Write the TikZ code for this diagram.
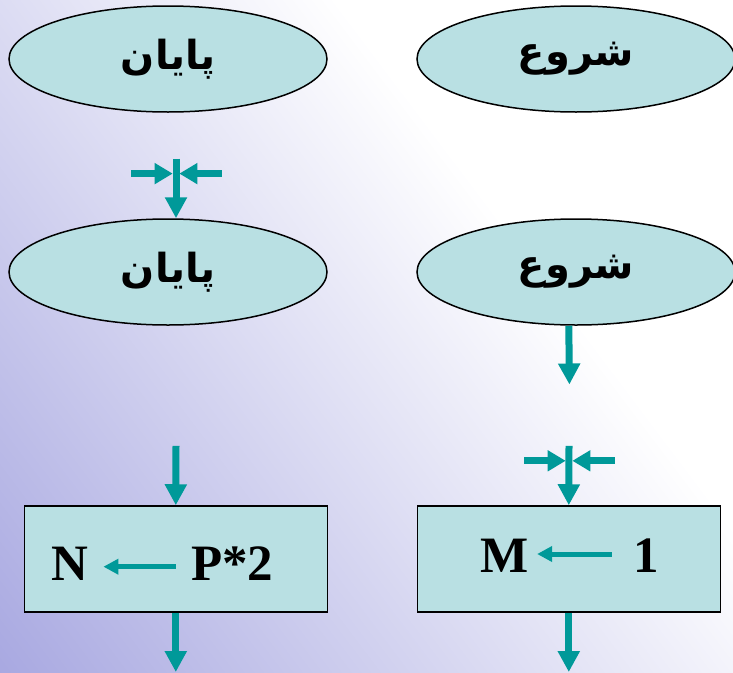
\documentclass[tikz,border=0pt]{standalone}
\usepackage{fontspec}
\setmainfont{Liberation Serif}
\newfontfamily\farsi[Script=Arabic]{DejaVu Sans}
\TeXXeTstate=1
\usetikzlibrary{shapes.geometric,arrows.meta}
\definecolor{boxfill}{RGB}{185,224,227}
\definecolor{flowteal}{RGB}{0,153,153}
\definecolor{bgpurple}{RGB}{160,160,222}

\begin{document}
\begin{tikzpicture}[x=1pt, y=-1pt]

\tikzset{ terminal/.style={ellipse, draw, line width=1.5pt, fill=boxfill,
    minimum width=318pt, minimum height=106pt, inner sep=0pt},
  process/.style={rectangle, draw, line width=1.5pt, fill=boxfill,
    minimum width=303pt, minimum height=106pt},
  flow/.style={flowteal, line width=7pt, -{Triangle[length=21pt,width=21pt]}},
  joinflow/.style={flowteal, line width=7pt, shorten >=3.3pt, -{Triangle[length=18pt,width=20pt]}},
  assign/.style={flowteal, line width=5pt, -{Triangle[length=15pt,width=15pt]}},
  farsitext/.style={font=\farsi\bfseries\fontsize{40}{46}\selectfont},
  latin/.style={font=\bfseries\fontsize{51}{60}\selectfont, inner sep=0pt, anchor=base west}
}

\useasboundingbox (0,0) rectangle (733,672);
\coordinate (ctr) at (366.5,336);

% Background
\begin{scope}
  \clip (0,0) rectangle (733,672);
  \shade[transform canvas={rotate around={-53:(ctr)}}, top color=white, bottom color=bgpurple]
  ([shift={(-800pt,178pt)}]ctr) rectangle ([shift={(800pt,-560pt)}]ctr);
\end{scope}

% Start and end
\node[terminal, farsitext] (endA) at (168,59) {\beginR پایان\endR};
\node[terminal, farsitext] (startA) at (576,59) {\beginR شروع\endR};
\node[terminal, farsitext] (endB) at (168,272) {\beginR پایان\endR};
\node[terminal, farsitext] (startB) at (576,272) {\beginR شروع\endR};

% Assignments
\node[process] (procL) at (175.8,559) {};
\node[process] (procR) at (568.8,559) {};
\node[latin] (nN) at (51.7,580.7) {N};
\node[latin] (pTwo) at (191,580.7) {P*2};
\node[latin] (mM) at (480,572.7) {M};
\node[latin] (one) at (633,572.7) {1};
\draw[assign, shorten <=15.3pt, shorten >=14.5pt] ([yshift=14pt]pTwo.base west) -- ([yshift=14pt]nN.base east);
\draw[assign, shorten <=21.3pt, shorten >=8.6pt] ([yshift=18.7pt]one.base west) -- ([yshift=18.7pt]mM.base east);

% Join into end
\coordinate (joinA) at (176,158.6);
\coordinate (joinAl) at (131,173.6);
\coordinate (joinAr) at (221.6,173.6);
\draw[flow] (joinA) -- (joinA |- endB.north);
\draw[joinflow] (joinAl) -- (joinAl -| joinA);
\draw[joinflow] (joinAr) -- (joinAr -| joinA);

% Out of start
\coordinate (outS) at (569.4,384.5);
\draw[flow] (startB.south -| procR.north) -- (outS);

% Into the boxes
\coordinate (inL) at (176,445.8);
\draw[flow] (inL) -- (procL.north);
\coordinate (joinB) at (569,445.8);
\coordinate (joinBl) at (524,460.8);
\coordinate (joinBr) at (614.8,460.8);
\draw[flow] (joinB) -- (procR.north);
\draw[joinflow] (joinBl) -- (joinBl -| joinB);
\draw[joinflow] (joinBr) -- (joinBr -| joinB);

% Out of the boxes
\coordinate (outL) at (175.8,672);
\coordinate (outR) at (568.8,672);
\draw[flow] (procL.south) -- (outL);
\draw[flow] (procR.south) -- (outR);

\end{tikzpicture}
\end{document}
